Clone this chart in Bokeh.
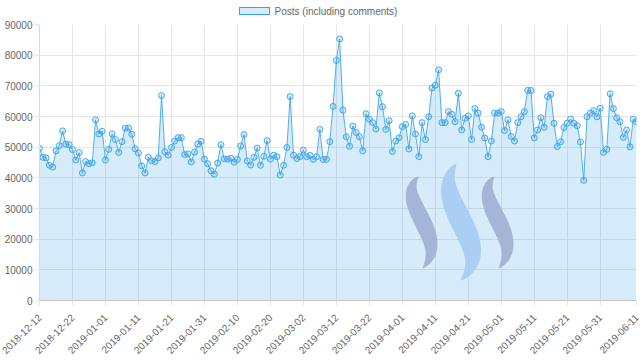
import math
import pandas as pd
from bokeh.plotting import figure
from bokeh.models import Range1d, FixedTicker, Div
from bokeh.layouts import column
from bokeh.embed import file_html
from bokeh.resources import INLINE

# ---------------- data ----------------
start_date = "2018-12-12"
series_name = "Posts (including comments)"
posts = [
    49600, 46700, 46500, 44100, 43500, 48800, 50500, 55300, 51000, 50800,
    49200, 45800, 48200, 41600, 45300, 44600, 44900, 58900, 54300, 55200,
    45800, 49300, 54300, 52500, 48300, 51800, 56200, 56200, 54200, 49500,
    48100, 43900, 41600, 46700, 45600, 45300, 46500, 66800, 48500, 47400,
    49900, 52000, 53100, 53100, 47600, 47800, 45200, 48400, 51000, 51900,
    46100, 44600, 42300, 41200, 44800, 50800, 46200, 46100, 46400, 45100,
    46000, 50400, 54100, 45500, 44200, 46700, 49700, 44100, 47000, 52100,
    46100, 47400, 46900, 40900, 44100, 49900, 66500, 47400, 46300, 46900,
    49000, 46900, 47300, 46000, 46900, 55800, 46000, 46000, 51800, 63300,
    78300, 85300, 62100, 53400, 50300, 56900, 54800, 53400, 48800, 60900,
    59100, 58000, 55900, 67700, 63200, 55800, 58600, 48600, 52000, 53100,
    56700, 57400, 49400, 60200, 54300, 46900, 58000, 52500, 59900, 69300,
    70200, 75200, 58000, 58000, 61600, 60700, 58300, 67600, 55600, 59400,
    60200, 52500, 62600, 61100, 56500, 53000, 46900, 52000, 61100, 61100,
    61600, 55400, 58900, 53500, 52000, 58000, 59900, 61600, 68500, 68500,
    53000, 55600, 59600, 56500, 66500, 67300, 57800, 50200, 51800, 56400,
    57800, 59200, 57800, 57000, 51700, 39200, 59900, 61100, 61900, 59900,
    62700, 48300, 49300, 67400, 62600, 59600, 58300, 53200, 55600, 50100,
    59100, 58300,
]
tick_labels = [
    "2018-12-12", "2018-12-22", "2019-01-01", "2019-01-11", "2019-01-21",
    "2019-01-31", "2019-02-10", "2019-02-20", "2019-03-02", "2019-03-12",
    "2019-03-22", "2019-04-01", "2019-04-11", "2019-04-21", "2019-05-01",
    "2019-05-11", "2019-05-21", "2019-05-31", "2019-06-11",
]
y_ticks = [0, 10000, 20000, 30000, 40000, 50000, 60000, 70000, 80000, 90000]

dates = [d.strftime("%Y-%m-%d") for d in pd.date_range(start_date, periods=len(posts), freq="D")]
idx = list(range(len(posts)))
tick_pos = [dates.index(t) for t in tick_labels]

BLUE = "#36a2eb"
FONT = "Liberation Sans"
TXT = "#666666"
GRID = "#e6e6e6"

p = figure(width=640, height=343,
           x_range=Range1d(0, len(posts) - 1), y_range=Range1d(0, y_ticks[-1]),
           output_backend="svg", toolbar_location=None,
           min_border_left=39, min_border_right=4, min_border_top=6, min_border_bottom=61)
p.outline_line_color = None
p.background_fill_color = "white"

# --- decorative watermark (three brush strokes) ---
def stroke(p0, p1, p2, p3, wmax, n=60):
    left, right = [], []
    for k in range(n + 1):
        t = k / n
        bx = (1-t)**3*p0[0] + 3*(1-t)**2*t*p1[0] + 3*(1-t)*t**2*p2[0] + t**3*p3[0]
        by = (1-t)**3*p0[1] + 3*(1-t)**2*t*p1[1] + 3*(1-t)*t**2*p2[1] + t**3*p3[1]
        dx = 3*(1-t)**2*(p1[0]-p0[0]) + 6*(1-t)*t*(p2[0]-p1[0]) + 3*t**2*(p3[0]-p2[0])
        dy = 3*(1-t)**2*(p1[1]-p0[1]) + 6*(1-t)*t*(p2[1]-p1[1]) + 3*t**2*(p3[1]-p2[1])
        L = math.hypot(dx, dy) or 1.0
        nx, ny = -dy / L, dx / L
        w = wmax / 2 * (math.sin(math.pi * t) ** 0.7)
        left.append((bx + nx * w, by + ny * w))
        right.append((bx - nx * w, by - ny * w))
    pts = left + right[::-1]
    xs = [(px - 39) / 597 * (len(posts) - 1) for px, _ in pts]
    ys = [(300 - py) / 276 * y_ticks[-1] for _, py in pts]
    return xs, ys

logo = [
    (stroke((418, 176), (392, 200), (452, 238), (422, 268), 17), "#a2b2d3"),
    (stroke((456, 163), (425, 200), (500, 245), (460, 280), 22), "#a9ccf4"),
    (stroke((494, 176), (468, 200), (528, 238), (498, 268), 17), "#a2b2d3"),
]

p.varea(x=idx, y1=0, y2=posts, fill_color=BLUE, fill_alpha=0.2)
for (xs, ys), col in logo:
    p.patch(xs, ys, fill_color=col, line_color=None, fill_alpha=0.95)
p.line(idx, posts, line_color=BLUE, line_width=1.0, line_alpha=0.85)
p.scatter(idx, posts, size=6, fill_color=BLUE, fill_alpha=0.2, line_color=BLUE, line_width=1, line_alpha=0.9)

# axes
p.xaxis.ticker = FixedTicker(ticks=tick_pos)
p.xaxis.major_label_overrides = {pos: lab for pos, lab in zip(tick_pos, tick_labels)}
p.xaxis.major_label_orientation = math.pi / 4
p.yaxis.ticker = FixedTicker(ticks=y_ticks)
for ax in (p.xaxis[0], p.yaxis[0]):
    ax.major_label_text_font = FONT
    ax.major_label_text_font_size = "10px"
    ax.major_label_text_color = TXT
    ax.major_tick_in = 0
    ax.major_tick_out = 5
    ax.major_tick_line_color = GRID
    ax.minor_tick_line_color = None
p.yaxis.major_label_standoff = 2
p.xaxis.major_label_standoff = 10
p.xaxis.axis_line_color = "#c4c4c4"
p.yaxis.axis_line_color = "#d8d8d8"

p.xgrid.ticker = FixedTicker(ticks=tick_pos)
p.ygrid.ticker = FixedTicker(ticks=y_ticks)
p.xgrid.grid_line_color = GRID
p.ygrid.grid_line_color = GRID

# legend (HTML, centred across the chart like the original)
legend_html = (
    '<div style="width:640px;height:18px;padding-top:6px;padding-right:4px;box-sizing:border-box;'
    'display:flex;align-items:flex-start;justify-content:center;'
    f'font-family:\'{FONT}\';font-size:10px;line-height:12px;color:{TXT};white-space:nowrap;">'
    '<span style="display:inline-block;width:31px;height:8px;margin:1px 5px 0 0;'
    f'background:rgba(54,162,235,0.2);border:1px solid {BLUE};"></span>'
    f'<span>{series_name}</span></div>'
)
legend_div = Div(text=legend_html, width=640, height=18, margin=(0, 0, 0, 0))

layout = column(legend_div, p, spacing=0)
open("out.html", "w").write(file_html(layout, INLINE))
